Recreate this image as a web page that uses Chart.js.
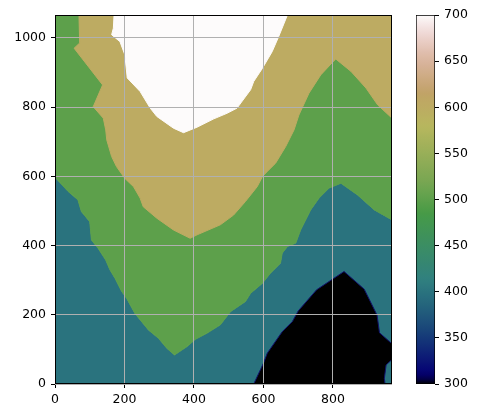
<!DOCTYPE html>
<html>
<head>
<meta charset="utf-8">
<script src="https://cdn.jsdelivr.net/npm/chart.js@4.4.1/dist/chart.umd.min.js"></script>
<style>
  html, body { margin: 0; padding: 0; background: #fff; }
  #wrap { position: relative; width: 480px; height: 418px; }
  #main { position: absolute; left: 0; top: 0; }
  #cbar { position: absolute; left: 400px; top: 0; }
</style>
</head>
<body>
<div id="wrap">
  <canvas id="main" width="480" height="418"></canvas>
  <canvas id="cbar" width="80" height="418"></canvas>
</div>
<script>
// extent of the gridded field
const X_MAX = 970;
const Y_MAX = 1066;

const X_TICKS = [0, 200, 400, 600, 800];
const Y_TICKS = [0, 200, 400, 600, 800, 1000];
const CBAR_TICKS = [300, 350, 400, 450, 500, 550, 600, 650, 700];
const CBAR_MIN = 300;
const CBAR_MAX = 700;

// filled level values: low pocket, base, middle, upper, top
const LEVELS = [300, 400, 500, 600, 700];

// contour boundaries
const tealGreenX = [0, 38, 66, 76, 100, 105, 124, 146, 158, 173, 192, 206, 230, 269, 298, 322, 344, 380, 404, 438, 476, 505, 548, 563, 597, 620, 649, 654, 669, 693, 707, 736, 760, 789, 823, 871, 919, 970];
const tealGreenY = [597, 556, 532, 498, 469, 416, 392, 358, 330, 305, 267, 248, 204, 156, 132, 103, 84, 108, 129, 147, 171, 209, 238, 262, 291, 320, 349, 378, 397, 407, 445, 503, 537, 566, 580, 546, 503, 474];

const greenTanX = [69, 71, 55, 137, 110, 139, 146, 149, 163, 177, 201, 226, 245, 254, 293, 341, 389, 409, 476, 514, 548, 582, 597, 611, 635, 664, 688, 702, 731, 765, 808, 852, 895, 929, 970];
const greenTanY = [1066, 985, 970, 864, 801, 768, 734, 705, 657, 628, 594, 570, 537, 512, 479, 445, 421, 431, 460, 488, 527, 570, 599, 614, 638, 686, 734, 777, 840, 893, 939, 903, 855, 806, 768];

const tanWhiteX = [170, 168, 163, 187, 201, 208, 245, 274, 293, 341, 370, 409, 457, 495, 524, 563, 572, 597, 625, 644, 669];
const tanWhiteY = [1066, 1028, 1009, 989, 951, 884, 845, 797, 773, 739, 726, 742, 766, 782, 797, 850, 874, 912, 960, 1004, 1066];

const lowX = [572, 600, 611, 654, 683, 700, 753, 832, 890, 927, 934, 970, 970, 953, 948, 950];
const lowY = [0, 60, 89, 151, 180, 211, 272, 325, 274, 199, 148, 116, 71, 55, 16, 0];

// gist_earth colormap segments
const GE_R = [[0, 0], [0.2824, 0.1882], [0.4588, 0.2714], [0.5490, 0.4719], [0.6980, 0.7176], [0.7882, 0.7553], [1, 0.9922]];
const GE_G = [[0, 0], [0.0275, 0], [0.1098, 0.1893], [0.1647, 0.3035], [0.2078, 0.3841], [0.2824, 0.5020], [0.5216, 0.6397], [0.6980, 0.7171], [0.7882, 0.6392], [0.7922, 0.6413], [0.8000, 0.6447], [0.8078, 0.6481], [0.8157, 0.6549], [0.8667, 0.6991], [0.8745, 0.7103], [0.8824, 0.7216], [0.8902, 0.7323], [0.8980, 0.7430], [0.9412, 0.8275], [0.9569, 0.8635], [0.9647, 0.8816], [0.9961, 0.9733], [1, 0.9843]];
const GE_B = [[0, 0], [0.0039, 0.1684], [0.0078, 0.2212], [0.0275, 0.4329], [0.0314, 0.4549], [0.2824, 0.5004], [0.4667, 0.2748], [0.5451, 0.3205], [0.7843, 0.3961], [0.8941, 0.6651], [1, 0.9843]];

function channel(seg, t) {
  for (let i = 1; i < seg.length; i++) {
    if (t <= seg[i][0]) {
      const [t0, v0] = seg[i - 1];
      const [t1, v1] = seg[i];
      return v0 + (v1 - v0) * (t - t0) / (t1 - t0);
    }
  }
  return seg[seg.length - 1][1];
}

function gistEarth(t) {
  const r = Math.round(channel(GE_R, t) * 255);
  const g = Math.round(channel(GE_G, t) * 255);
  const b = Math.round(channel(GE_B, t) * 255);
  return `rgb(${r},${g},${b})`;
}

function levelColor(v) {
  return gistEarth((v - CBAR_MIN) / (CBAR_MAX - CBAR_MIN));
}

function toPoints(xs, ys) {
  return xs.map((x, i) => ({ x, y: ys[i] }));
}

// polygons, bottom layer first
const layers = [
  {
    level: LEVELS[1],
    points: [{ x: 0, y: 0 }, ...toPoints(tealGreenX, tealGreenY), { x: X_MAX, y: 0 }]
  },
  {
    level: LEVELS[2],
    points: [...toPoints(tealGreenX, tealGreenY), { x: X_MAX, y: Y_MAX }, { x: 0, y: Y_MAX }]
  },
  {
    level: LEVELS[3],
    points: [...toPoints(greenTanX, greenTanY), { x: X_MAX, y: Y_MAX }]
  },
  {
    level: LEVELS[4],
    points: toPoints(tanWhiteX, tanWhiteY)
  },
  {
    level: LEVELS[0],
    points: toPoints(lowX, lowY),
    edge: "rgb(18,18,110)"
  }
];

const datasets = layers.map((layer, i) => {
  const color = levelColor(layer.level);
  return {
    data: layer.points,
    showLine: true,
    fill: "shape",
    backgroundColor: color,
    borderColor: layer.edge || color,
    borderWidth: 1,
    pointRadius: 0,
    pointHoverRadius: 0,
    tension: 0,
    order: layers.length - i
  };
});

const FONT = { family: "'DejaVu Sans', sans-serif", size: 12.5 };
const plainTick = (v) => String(v);

const framePlugin = {
  id: "frame",
  afterDraw(chart) {
    const { ctx, chartArea: a } = chart;
    ctx.save();
    ctx.strokeStyle = "#000";
    ctx.lineWidth = 1;
    ctx.strokeRect(a.left + 0.5, a.top + 0.5, a.right - a.left - 1, a.bottom - a.top - 1);
    ctx.restore();
  }
};

new Chart(document.getElementById("main"), {
  type: "scatter",
  data: { datasets },
  options: {
    responsive: false,
    devicePixelRatio: 1,
    animation: false,
    events: [],
    layout: { padding: { left: 0, top: 15, right: 88, bottom: 0 } },
    plugins: { legend: { display: false }, tooltip: { enabled: false } },
    scales: {
      x: {
        type: "linear",
        min: 0,
        max: X_MAX,
        afterBuildTicks: (s) => { s.ticks = X_TICKS.map((v) => ({ value: v })); },
        afterFit: (s) => { s.height = 34; },
        ticks: { color: "#000", font: FONT, padding: 4, maxRotation: 0, callback: plainTick },
        grid: { color: "#b0b0b0", lineWidth: 1, tickColor: "#000", tickLength: 4, z: 1 },
        border: { display: false }
      },
      y: {
        type: "linear",
        min: 0,
        max: Y_MAX,
        afterBuildTicks: (s) => { s.ticks = Y_TICKS.map((v) => ({ value: v })); },
        afterFit: (s) => { s.width = 55; },
        ticks: { color: "#000", font: FONT, padding: 5, callback: plainTick },
        grid: { color: "#b0b0b0", lineWidth: 1, tickColor: "#000", tickLength: 4, z: 1 },
        border: { display: false }
      }
    }
  },
  plugins: [framePlugin]
});

// colorbar
new Chart(document.getElementById("cbar"), {
  type: "bar",
  data: {
    labels: [""],
    datasets: [{
      data: [[CBAR_MIN, CBAR_MAX]],
      barPercentage: 1,
      categoryPercentage: 1,
      borderColor: "#000",
      borderWidth: 1,
      borderSkipped: false,
      backgroundColor: (c) => {
        const chart = c.chart;
        if (!chart.chartArea) return null;
        const ys = chart.scales.y;
        const g = chart.ctx.createLinearGradient(0, ys.getPixelForValue(CBAR_MIN), 0, ys.getPixelForValue(CBAR_MAX));
        for (let i = 0; i <= 80; i++) {
          g.addColorStop(i / 80, gistEarth(i / 80));
        }
        return g;
      }
    }]
  },
  options: {
    responsive: false,
    devicePixelRatio: 1,
    animation: false,
    events: [],
    layout: { padding: { left: 16, top: 15, right: 0, bottom: 34 } },
    plugins: { legend: { display: false }, tooltip: { enabled: false } },
    scales: {
      x: { display: false },
      y: {
        position: "right",
        min: CBAR_MIN,
        max: CBAR_MAX,
        afterBuildTicks: (s) => { s.ticks = CBAR_TICKS.map((v) => ({ value: v })); },
        afterFit: (s) => { s.width = 45; },
        ticks: { color: "#000", font: FONT, padding: 5, callback: plainTick },
        grid: { drawOnChartArea: false, tickColor: "#000", tickLength: 4 },
        border: { display: false }
      }
    }
  }
});
</script>
</body>
</html>
